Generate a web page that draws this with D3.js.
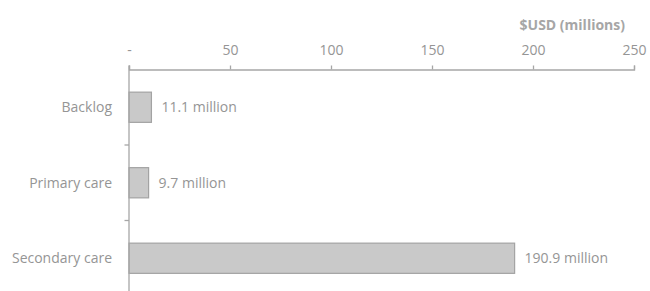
<!DOCTYPE html>
<html>
<head>
<meta charset="utf-8">
<script src="https://cdn.jsdelivr.net/npm/d3@7/dist/d3.min.js"></script>
<style>
  html, body { margin: 0; padding: 0; background: #fff; }
  svg { display: block; }
  text { font-family: "Open Sans", sans-serif; }
</style>
</head>
<body>
<svg id="chart" width="650" height="291"></svg>
<script>
const categories = ["Backlog", "Primary care", "Secondary care"];
const values = [11.1, 9.7, 190.9];
const valueLabels = ["11.1 million", "9.7 million", "190.9 million"];
const tickValues = [0, 50, 100, 150, 200, 250];
const tickLabels = ["-", "50", "100", "150", "200", "250"];
const axisTitle = "$USD (millions)";

const svg = d3.select("#chart");
const x = d3.scaleLinear().domain([0, 250]).range([129, 634]);
const y = d3.scaleBand().domain(categories).range([69.5, 296]).paddingInner(0.6).paddingOuter(0.3);

const grey = "#a6a6a6";
const textGrey = "#959595";
const fs = "14px";

// top axis
const xAxis = d3.axisTop(x).tickValues(tickValues)
  .tickFormat((d, i) => tickLabels[i]).tickSizeInner(4).tickSizeOuter(4).tickPadding(11);
const gx = svg.append("g").attr("transform", "translate(0,69.5)").call(xAxis);
gx.select(".domain").attr("stroke", grey).attr("stroke-width", 1.3);
gx.selectAll(".tick line").attr("stroke", grey).attr("stroke-width", 1.3);
gx.selectAll(".tick text").attr("fill", textGrey).style("font-size", fs).style("font-family", "'Open Sans', sans-serif");

// bars
svg.append("g").selectAll("rect").data(categories).join("rect")
  .attr("x", x(0))
  .attr("y", d => y(d))
  .attr("width", (d, i) => x(values[i]) - x(0))
  .attr("height", y.bandwidth())
  .attr("fill", "#c9c9c9")
  .attr("stroke", "#a3a3a3")
  .attr("stroke-width", 1.2);

// left axis
const yBounds = [69.5, 296];
const gy = svg.append("g");
gy.append("line").attr("x1", x(0)).attr("x2", x(0)).attr("y1", yBounds[0] - 4).attr("y2", yBounds[1])
  .attr("stroke", grey).attr("stroke-width", 1.3);
const sepTicks = categories.slice(1).map(c => y(c) - y.step() * y.paddingInner() / 2);
gy.selectAll(".sep").data(sepTicks).join("line")
  .attr("x1", x(0) - 4.5).attr("x2", x(0)).attr("y1", d => d).attr("y2", d => d)
  .attr("stroke", grey).attr("stroke-width", 1.3);
gy.selectAll(".cat").data(categories).join("text")
  .attr("x", x(0) - 17)
  .attr("y", d => y(d) + y.bandwidth() / 2)
  .attr("dy", "0.35em")
  .attr("text-anchor", "end")
  .attr("fill", textGrey)
  .style("font-size", fs)
  .text(d => d);

// value labels
svg.append("g").selectAll("text").data(categories).join("text")
  .attr("x", (d, i) => x(values[i]) + 10)
  .attr("y", d => y(d) + y.bandwidth() / 2)
  .attr("dy", "0.35em")
  .attr("fill", textGrey)
  .style("font-size", fs)
  .text((d, i) => valueLabels[i]);

// axis title
svg.append("text")
  .attr("x", 625).attr("y", 30)
  .attr("text-anchor", "end")
  .attr("fill", grey)
  .style("font-size", "14px")
  .style("font-weight", "bold")
  .text(axisTitle);
</script>
</body>
</html>
